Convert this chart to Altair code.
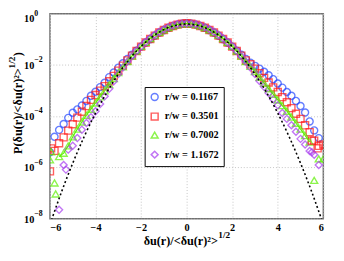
import altair as alt
import pandas as pd

LABELS = ["r/w = 0.1167", "r/w = 0.3501", "r/w = 0.7002", "r/w = 1.1672"]
COLORS = ["#2448ff", "#ff1a1a", "#5cf000", "#a83cf0"]
SHAPES = ["circle", "square", "triangle-up", "diamond"]

X = [-6.0, -5.8, -5.6, -5.4, -5.2, -5.0, -4.8, -4.6, -4.4, -4.2,
     -4.0, -3.8, -3.6, -3.4, -3.2, -3.0, -2.8, -2.6, -2.4, -2.2,
     -2.0, -1.8, -1.6, -1.4, -1.2, -1.0, -0.8, -0.6, -0.4, -0.2,
     0.0,
     0.2, 0.4, 0.6, 0.8, 1.0, 1.2, 1.4, 1.6, 1.8, 2.0,
     2.2, 2.4, 2.6, 2.8, 3.0, 3.2, 3.4, 3.6, 3.8, 4.0,
     4.2, 4.4, 4.6, 4.8, 5.0, 5.2, 5.4, 5.6, 5.8, 6.0]

# log10 of the PDF values
BLUE_LOG = [-5.4, -4.8, -4.53, -4.3, -4.06, -3.86, -3.73, -3.58, -3.4, -3.2,
            -3.04, -2.86, -2.69, -2.47, -2.29, -2.1, -1.93, -1.76, -1.6, -1.44,
            -1.28, -1.13, -0.99, -0.86, -0.74, -0.64, -0.55, -0.48, -0.42, -0.385,
            -0.37,
            -0.385, -0.42, -0.48, -0.55, -0.64, -0.74, -0.86, -0.99, -1.13, -1.28,
            -1.44, -1.6, -1.76, -1.91, -2.03, -2.14, -2.26, -2.4, -2.55, -2.72,
            -2.88, -3.05, -3.2, -3.4, -3.6, -3.85, -4.2, -4.55, -4.85, None]
RED_LOG = [-6.15, -5.35, -5.05, -4.82, -4.56, -4.31, -4.05, -3.82, -3.6, -3.36,
           -3.17, -3.0, -2.82, -2.63, -2.42, -2.22, -2.02, -1.82, -1.63, -1.45,
           -1.28, -1.12, -0.98, -0.85, -0.73, -0.63, -0.545, -0.475, -0.42, -0.385,
           -0.37,
           -0.385, -0.42, -0.475, -0.545, -0.63, -0.73, -0.85, -0.98, -1.12, -1.28,
           -1.45, -1.63, -1.82, -1.97, -2.14, -2.32, -2.5, -2.68, -2.87, -3.05,
           -3.25, -3.45, -3.68, -3.9, -4.1, -4.35, -4.62, -4.95, -5.15, -5.1]
GREEN_LOG = [-5.7, -6.6, -5.57, -5.44, -5.15, -4.8, -4.5, -4.22, -3.96, -3.72,
             -3.48, -3.24, -3.0, -2.76, -2.52, -2.29, -2.07, -1.86, -1.65, -1.45,
             -1.27, -1.11, -0.96, -0.83, -0.72, -0.62, -0.535, -0.47, -0.42, -0.39,
             -0.375,
             -0.39, -0.42, -0.47, -0.535, -0.62, -0.72, -0.83, -0.96, -1.11, -1.27,
             -1.45, -1.65, -1.86, -2.05, -2.25, -2.48, -2.7, -2.92, -3.14, -3.36,
             -3.58, -3.8, -4.03, -4.27, -4.5, -4.75, -5.0, -6.5, -5.66, -5.66]
PURPLE_LOG = [None, None, -7.65, -5.9, -5.3, -5.15, -4.85, -4.52, -4.26, -4.04,
              -3.8, -3.52, -3.22, -2.92, -2.63, -2.35, -2.1, -1.87, -1.655, -1.455,
              -1.27, -1.1, -0.95, -0.815, -0.7, -0.6, -0.52, -0.455, -0.41, -0.385,
              -0.375,
              -0.385, -0.41, -0.455, -0.52, -0.6, -0.7, -0.815, -0.95, -1.1, -1.27,
              -1.455, -1.655, -1.87, -2.1, -2.35, -2.62, -2.85, -3.09, -3.33, -3.57,
              -3.87, -4.1, -4.35, -4.6, -4.88, -5.1, -5.35, -5.5, -5.9, None]

# extra scattered tail points
EXTRA_SERIES = ["r/w = 0.3501", "r/w = 0.3501", "r/w = 0.3501",
                "r/w = 0.7002", "r/w = 0.7002", "r/w = 1.1672", "r/w = 1.1672"]
EXTRA_X = [-5.95, 5.75, 5.5, -5.95, -5.75, -5.3, 5.5]
EXTRA_LOG = [-5.25, -5.25, -4.95, -5.38, -7.03, -6.08, -5.4]

# Gaussian reference (dotted)
GX = [-6.0, -5.5, -5.0, -4.5, -4.0, -3.5, -3.0, -2.5, -2.0, -1.5, -1.0, -0.5, 0.0,
      0.5, 1.0, 1.5, 2.0, 2.5, 3.0, 3.5, 4.0, 4.5, 5.0, 5.5, 6.0]
GLOG = [-8.216, -6.968, -5.828, -4.796, -3.873, -3.059, -2.353, -1.756, -1.268, -0.888,
        -0.616, -0.453, -0.399, -0.453, -0.616, -0.888, -1.268, -1.756, -2.353, -3.059,
        -3.873, -4.796, -5.828, -6.968, -8.216]

# y tick labels (10 with exponent)
YTICKS = [1e-8, 1e-6, 1e-4, 1e-2]
YEXP = ["−8", "−6", "−4", "−2"]
YTOP = [1.0]
YTOP_EXP = ["0"]

XTITLE_MAIN = ["δu(r)/<δu(r)²>"]
XTITLE_SUP = ["1/2"]
YTITLE_MAIN = ["P(δu(r)/<δu(r)²>"]
YTITLE_SUP = ["1/2"]
YTITLE_END = [")"]

rows = []
for name, vals in zip(LABELS, [BLUE_LOG, RED_LOG, GREEN_LOG, PURPLE_LOG]):
    for x, v in zip(X, vals):
        if v is not None:
            rows.append({"x": x, "p": 10 ** v, "series": name})
for name, x, v in zip(EXTRA_SERIES, EXTRA_X, EXTRA_LOG):
    rows.append({"x": x, "p": 10 ** v, "series": name})
df = pd.DataFrame(rows)
gdf = pd.DataFrame({"x": GX, "p": [10 ** v for v in GLOG]})
green_df = pd.DataFrame({"x": X, "p": [None if v is None else 10 ** v for v in GREEN_LOG]})

FONT = "Liberation Serif"
xscale = alt.Scale(domain=[-6, 6], nice=False)
yscale = alt.Scale(type="log", domain=[1e-8, 1], nice=False)

xaxis = alt.Axis(values=[-6, -4, -2, 0, 2, 4, 6], title=None,
                 grid=True, gridDash=[1, 2], gridColor="#c4c4c4", tickSize=0, domain=False,
                 labelFont=FONT, labelFontWeight="bold", labelFontSize=10.5, labelColor="black",
                 labelPadding=4)
yaxis = alt.Axis(values=[1e-8, 1e-6, 1e-4, 1e-2, 1], title=None, labels=False,
                 grid=True, gridDash=[1, 2], gridColor="#c4c4c4", tickSize=0, domain=False)

leg = alt.Legend(orient="none", legendX=97, legendY=75, title=None)

points = alt.Chart(df).mark_point(filled=False, strokeWidth=1.4, size=52, clip=True).encode(
    x=alt.X("x:Q", scale=xscale, axis=xaxis),
    y=alt.Y("p:Q", scale=yscale, axis=yaxis),
    color=alt.Color("series:N", scale=alt.Scale(domain=LABELS, range=COLORS), legend=leg),
    shape=alt.Shape("series:N", scale=alt.Scale(domain=LABELS, range=SHAPES), legend=leg),
)

green_line = alt.Chart(green_df).transform_filter(
    "datum.p != null && datum.x >= -5.6 && datum.x <= 5.4"
).mark_line(color=COLORS[2], strokeWidth=1.1, clip=True).encode(
    x=alt.X("x:Q", scale=xscale),
    y=alt.Y("p:Q", scale=yscale),
)

gauss = alt.Chart(gdf).mark_line(color="black", strokeDash=[2, 2.5], strokeWidth=1.6,
                                 interpolate="natural", clip=True).encode(
    x=alt.X("x:Q", scale=xscale),
    y=alt.Y("p:Q", scale=yscale),
)

tick_df = pd.DataFrame({"v": YTICKS, "e": YEXP})
top_df = pd.DataFrame({"v": YTOP, "e": YTOP_EXP})
txt = dict(font=FONT, fontWeight="bold", color="black", baseline="middle")

ybase = alt.Chart(tick_df).mark_text(align="right", dx=-16, dy=1, fontSize=10.5, **txt).encode(
    x=alt.value(0), y=alt.Y("v:Q", scale=yscale), text=alt.value("10"))
yexp = alt.Chart(tick_df).mark_text(align="left", dx=-16, dy=-5, fontSize=8, **txt).encode(
    x=alt.value(0), y=alt.Y("v:Q", scale=yscale), text="e:N")
ytopbase = alt.Chart(top_df).mark_text(align="right", dx=-16, dy=5, fontSize=10.5, **txt).encode(
    x=alt.value(0), y=alt.Y("v:Q", scale=yscale), text=alt.value("10"))
ytopexp = alt.Chart(top_df).mark_text(align="left", dx=-16, dy=0, fontSize=8, **txt).encode(
    x=alt.value(0), y=alt.Y("v:Q", scale=yscale), text="e:N")

xt_main = alt.Chart(pd.DataFrame({"t": XTITLE_MAIN})).mark_text(
    align="right", dx=32, dy=23, fontSize=12.5, **txt).encode(
    x=alt.value(140), y=alt.value(210), text="t:N")
xt_sup = alt.Chart(pd.DataFrame({"t": XTITLE_SUP})).mark_text(
    align="left", dx=32.5, dy=17, fontSize=9.5, **txt).encode(
    x=alt.value(140), y=alt.value(210), text="t:N")

yt_main = alt.Chart(pd.DataFrame({"t": YTITLE_MAIN})).mark_text(
    align="left", angle=270, dx=-38.5, dy=-33, fontSize=12.5, **txt).encode(
    x=alt.value(0), y=alt.value(105), text="t:N")
yt_sup = alt.Chart(pd.DataFrame({"t": YTITLE_SUP})).mark_text(
    align="left", angle=270, dx=49, dy=-38.5, fontSize=9.5, **txt).encode(
    x=alt.value(0), y=alt.value(105), text="t:N")
yt_end = alt.Chart(pd.DataFrame({"t": YTITLE_END})).mark_text(
    align="left", angle=270, dx=61.5, dy=-33, fontSize=12.5, **txt).encode(
    x=alt.value(0), y=alt.value(105), text="t:N")

chart = alt.layer(points, green_line, gauss, ybase, yexp, ytopbase, ytopexp,
                  xt_main, xt_sup, yt_main, yt_sup, yt_end).properties(
    width=280, height=210,
    autosize=alt.AutoSizeParams(type="none"),
    padding={"left": 43, "top": 3, "right": 13, "bottom": 30},
    background="white",
).configure_view(stroke="#707070", strokeWidth=1.5).configure_legend(
    strokeColor="black", fillColor="white", padding=5, labelFont=FONT,
    labelFontWeight="bold", labelFontSize=10.5, labelColor="black", symbolSize=50,
    symbolStrokeWidth=1.5, rowPadding=6, labelOffset=5,
)

chart.save("out.html", embed_options={"renderer": "svg", "actions": False})
